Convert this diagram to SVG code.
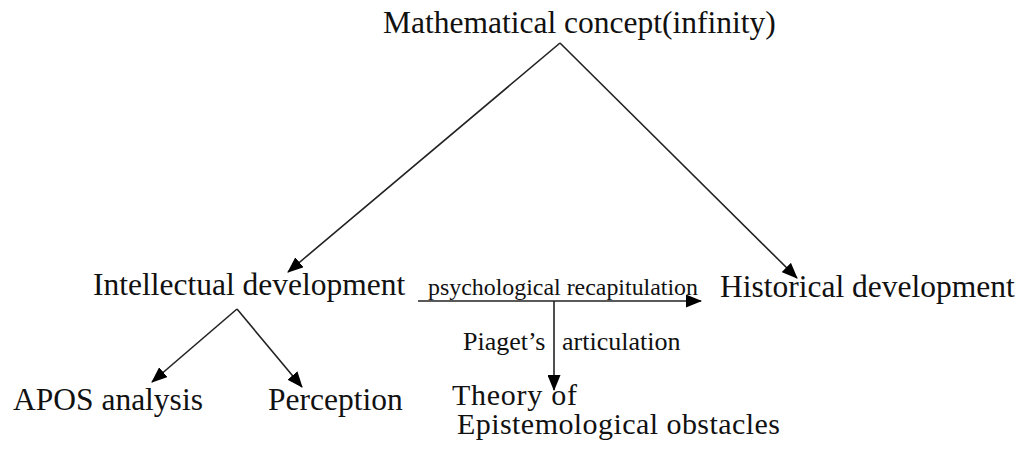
<svg xmlns="http://www.w3.org/2000/svg" width="1022" height="456" viewBox="0 0 1022 456">
<defs>
<marker id="arr" markerUnits="userSpaceOnUse" markerWidth="16" markerHeight="13" refX="15" refY="6.5" orient="auto">
<path d="M0,0 L16,6.5 L0,13 z" fill="#000"/>
</marker>
<style>
text{fill:#111;font-family:"Liberation Serif","Times New Roman",serif;}
.m{font-size:31.5px;}
.s{font-size:26px;}
.e{stroke:#222;stroke-width:1.6;fill:none;marker-end:url(#arr);}
</style>
</defs>
<rect width="1022" height="456" fill="#fff"/>
<g id="connectors">
<line class="e" x1="560" y1="43" x2="288" y2="272"/>
<line class="e" x1="560" y1="43" x2="797" y2="278"/>
<line class="e" x1="237" y1="309" x2="152" y2="382"/>
<line class="e" x1="237" y1="309" x2="302" y2="387"/>
<line class="e" x1="418" y1="301" x2="701" y2="301"/>
<line class="e" x1="554" y1="301" x2="554" y2="390"/>
<text x="428" y="295" textLength="270" lengthAdjust="spacingAndGlyphs" font-size="23">psychological recapitulation</text>
<text class="s" x="463" y="350">Piaget’s</text>
<text class="s" x="562" y="350">articulation</text>
</g>
<g id="n-math"><text class="m" x="383" y="33">Mathematical concept(infinity)</text></g>
<g id="n-intellectual"><text class="m" x="93" y="295">Intellectual development</text></g>
<g id="n-historical"><text class="m" x="720" y="297">Historical development</text></g>
<g id="n-apos"><text class="m" x="13" y="410">APOS analysis</text></g>
<g id="n-perception"><text class="m" x="268" y="410">Perception</text></g>
<g id="n-theory"><text x="452" y="405" font-size="30" textLength="125">Theory of</text><text x="457" y="434" font-size="30" textLength="323">Epistemological obstacles</text></g>
</svg>
